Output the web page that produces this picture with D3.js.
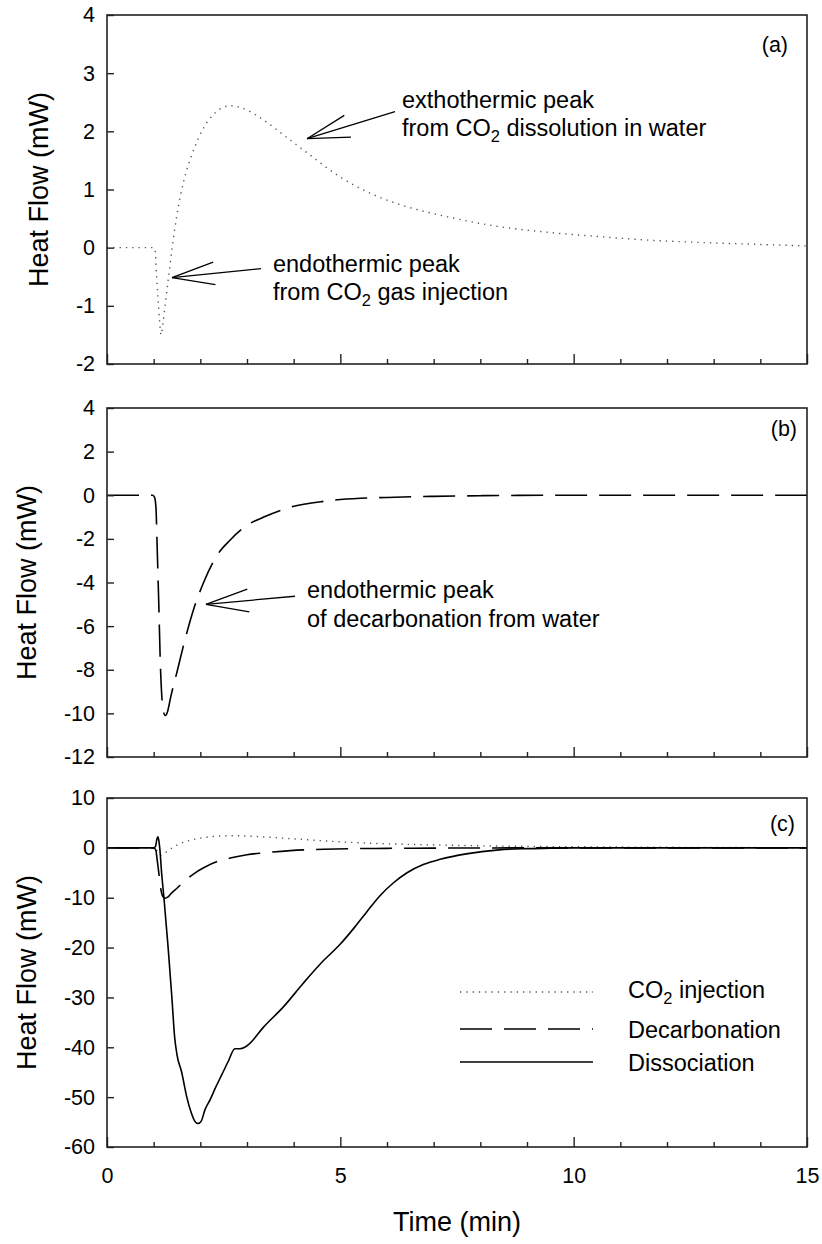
<!DOCTYPE html>
<html><head><meta charset="utf-8">
<script src="https://cdn.jsdelivr.net/npm/d3@7"></script>
<style>
body{margin:0;background:#fff;}
svg text{font-family:"Liberation Sans",Arial,Helvetica,sans-serif;fill:#000;}
</style></head><body>
<svg id="chart" width="822" height="1244"></svg>
<script>
// ---------- data (time in min, heat flow in mW) ----------
const co2Time = [0,0.5,1.0,1.03,1.06,1.10,1.13,1.16,1.20,1.25,1.32,1.40,1.50,1.64,1.82,2.07,2.32,2.64,2.90,3.29,3.86,4.29,4.93,5.71,6.28,7.30,8.42,9.50,10.56,11.60,12.70,13.80,15.0];
const co2Flow = [0,0,0,-0.05,-0.45,-0.95,-1.3,-1.5,-1.3,-0.95,-0.5,0.02,0.57,1.13,1.6,2.06,2.32,2.44,2.4,2.23,1.89,1.63,1.25,0.91,0.74,0.53,0.36,0.26,0.19,0.13,0.09,0.06,0.03];

const decTime = [0,0.9,0.98,1.02,1.05,1.07,1.09,1.11,1.14,1.18,1.22,1.25,1.30,1.36,1.50,1.68,1.86,2.07,2.36,2.64,3.0,3.36,3.93,4.64,5.43,6.0,7.0,8.0,10.0,15.0];
const decFlow = [0,0,0,-0.1,-0.6,-2.0,-3.5,-5.0,-7.5,-9.4,-10.0,-10.1,-9.9,-9.3,-8.1,-6.55,-5.2,-4.0,-2.75,-2.05,-1.38,-1.0,-0.55,-0.28,-0.14,-0.1,-0.05,-0.02,0,0];

const disTime = [0,0.5,1.0,1.04,1.07,1.09,1.11,1.13,1.17,1.22,1.31,1.39,1.45,1.50,1.60,1.71,1.80,1.88,1.95,2.02,2.10,2.21,2.33,2.46,2.60,2.74,2.85,2.95,3.05,3.35,3.78,4.21,4.60,5.0,5.30,5.57,5.85,6.14,6.43,6.79,7.14,7.70,8.40,9.0,9.5,10.0,15.0];
const disFlow = [0,0,0,0.3,1.8,2.2,1.5,0,-5,-10,-20,-30,-38,-41.5,-45,-50,-53,-54.8,-55.3,-54.8,-52.5,-50.5,-48,-45.5,-42.8,-40.3,-40.3,-40,-39.3,-36,-31.9,-27.1,-23,-19.3,-16,-12.8,-9.6,-7,-5,-3.3,-2.3,-1.2,-0.4,-0.15,-0.05,0,0];

const xMajorTicks = [0,5,10,15];
const xMinorTicks = [0,1,2,3,4,5,6,7,8,9,10,11,12,13,14,15];
const yTicksA = [-2,-1,0,1,2,3,4];
const yTicksB = [-12,-10,-8,-6,-4,-2,0,2,4];
const yTicksC = [-60,-50,-40,-30,-20,-10,0,10];

const legendLabels = [["CO","2"," injection"],["Decarbonation"],["Dissociation"]];

// ---------- layout ----------
const svg = d3.select('#chart');
const x = d3.scaleLinear().domain([0,15]).range([107,807]);
const styles = {
  co2:{stroke:'#555', width:1.4, dash:'1.3,5'},
  dec:{stroke:'#000', width:1.6, dash:'32,12'},
  dis:{stroke:'#000', width:1.6, dash:null}
};
const seriesData = {
  co2: co2Time.map((t,i)=>[t,co2Flow[i]]),
  dec: decTime.map((t,i)=>[t,decFlow[i]]),
  dis: disTime.map((t,i)=>[t,disFlow[i]])
};
const panels = [
  {top:15, bottom:364, domain:[-2,4], ticks:yTicksA, label:'(a)', labelX:788, labelY:52, titleX:48, series:['co2'], showX:false},
  {top:408, bottom:757, domain:[-12,4], ticks:yTicksB, label:'(b)', labelX:797, labelY:436, titleX:36, series:['dec'], showX:false},
  {top:798, bottom:1147, domain:[-60,10], ticks:yTicksC, label:'(c)', labelX:795, labelY:831, titleX:36, series:['co2','dec','dis'], showX:true}
];
const fmt = d => String(d); // plain hyphen minus as in the reference

panels.forEach(p=>{
  const y = d3.scaleLinear().domain(p.domain).range([p.bottom,p.top]);
  p.y = y;
  const g = svg.append('g');
  const line = d3.line().x(d=>x(d[0])).y(d=>y(d[1])).curve(d3.curveMonotoneX);
  p.series.forEach(s=>{
    const st = styles[s];
    g.append('path').datum(seriesData[s]).attr('d',line)
      .attr('fill','none').attr('stroke',st.stroke).attr('stroke-width',st.width)
      .attr('stroke-dasharray',st.dash).attr('stroke-linejoin','round');
  });
  const ya = g.append('g').attr('transform',`translate(${x(0)},0)`)
    .call(d3.axisLeft(y).tickValues(p.ticks).tickSizeInner(-7).tickSizeOuter(0).tickPadding(12).tickFormat(fmt));
  ya.select('.domain').remove();
  ya.selectAll('line').attr('stroke','#222').attr('stroke-width',1.4);
  ya.selectAll('text').attr('font-size',21.5).attr('font-family','"Liberation Sans",Arial,sans-serif').attr('fill','#000');
  const xa = g.append('g').attr('transform',`translate(0,${p.bottom})`)
    .call(d3.axisBottom(x).tickValues(xMinorTicks).tickSizeInner(-5).tickSizeOuter(0).tickPadding(21)
      .tickFormat(d=> (p.showX && xMajorTicks.includes(d)) ? fmt(d) : ''));
  xa.select('.domain').remove();
  xa.selectAll('.tick line').attr('y2',d=>xMajorTicks.includes(d)?-10:-5).attr('stroke','#222').attr('stroke-width',1.4);
  xa.selectAll('text').attr('font-size',21.5).attr('font-family','"Liberation Sans",Arial,sans-serif').attr('fill','#000');
  g.append('rect').attr('x',x(0)).attr('y',p.top).attr('width',x(15)-x(0)).attr('height',p.bottom-p.top)
    .attr('fill','none').attr('stroke','#222').attr('stroke-width',1.6);
  g.append('text').attr('x',p.labelX).attr('y',p.labelY).attr('text-anchor','end').attr('font-size',21.5).text(p.label);
  g.append('text').attr('transform',`translate(${p.titleX},${(p.top+p.bottom)/2}) rotate(-90)`)
    .attr('text-anchor','middle').attr('font-size',27).text('Heat Flow (mW)');
});

svg.append('text').attr('x',(x(0)+x(15))/2).attr('y',1231).attr('text-anchor','middle').attr('font-size',27).text('Time (min)');

// ---------- annotations (positions in data units) ----------
const annotations = [
  {panel:0, tip:[4.286,1.873], tail:[6.171,2.337], text:[6.321,2.405], lines:[["exthothermic peak"],["from CO","2"," dissolution in water"]]},
  {panel:0, tip:[1.393,-0.515], tail:[3.30,-0.361], text:[3.557,-0.412], lines:[["endothermic peak"],["from CO","2"," gas injection"]]},
  {panel:1, tip:[2.121,-5.0], tail:[4.029,-4.63], text:[4.286,-4.725], lines:[["endothermic peak"],["of decarbonation from water"]]}
];
function writeParts(textSel, parts){
  parts.forEach((s,i)=>{
    if(i===1){ textSel.append('tspan').attr('font-size','0.7em').attr('dy',6).text(s); }
    else if(i===2){ textSel.append('tspan').attr('dy',-6).text(s); }
    else textSel.append('tspan').text(s);
  });
}
annotations.forEach(a=>{
  const y = panels[a.panel].y;
  const tx=x(a.tip[0]), ty=y(a.tip[1]), lx=x(a.tail[0]), ly=y(a.tail[1]);
  const g = svg.append('g').attr('stroke','#000').attr('stroke-width',1.3).attr('fill','none');
  g.append('line').attr('x1',tx).attr('y1',ty).attr('x2',lx).attr('y2',ly);
  const ang = Math.atan2(ly-ty, lx-tx), L=44, spread=15*Math.PI/180;
  [-spread,spread].forEach(s=>{
    g.append('line').attr('x1',tx).attr('y1',ty)
      .attr('x2',tx+L*Math.cos(ang+s)).attr('y2',ty+L*Math.sin(ang+s));
  });
  a.lines.forEach((parts,i)=>{
    const t = svg.append('text').attr('x',x(a.text[0])).attr('y',y(a.text[1])+i*28.5).attr('font-size',23.5);
    writeParts(t,parts);
  });
});

// ---------- legend ----------
const legendKeys = ['co2','dec','dis'];
const legendLineY = [992,1029,1062];
const legendTextY = [998,1038,1071];
legendKeys.forEach((k,i)=>{
  const st = styles[k];
  svg.append('line').attr('x1',460).attr('x2',593).attr('y1',legendLineY[i]).attr('y2',legendLineY[i])
    .attr('stroke',st.stroke).attr('stroke-width',st.width).attr('stroke-dasharray',st.dash);
  const t = svg.append('text').attr('x',628).attr('y',legendTextY[i]).attr('font-size',23.5);
  writeParts(t, legendLabels[i]);
});
</script>
</body></html>
